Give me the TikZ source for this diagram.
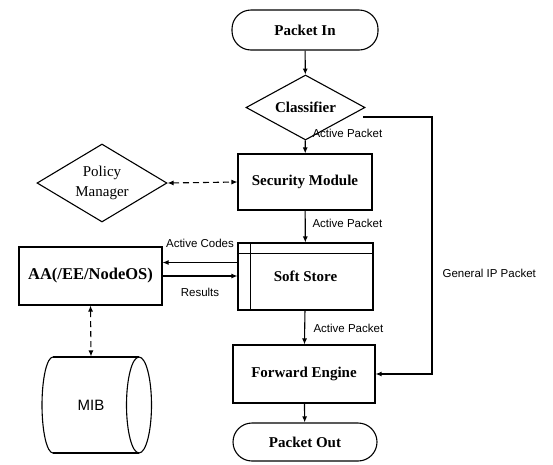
\documentclass[tikz,border=0pt]{standalone}
\usepackage{fontspec}
\setmainfont{Liberation Serif}
\setsansfont{Liberation Sans}
\usetikzlibrary{shapes.geometric,arrows.meta,calc}

\tikzset{
  every path/.style={line width=1.1pt},
  arr/.style={-{Latex[length=6pt,width=5pt]}},
  biarr/.style={{Latex[length=6pt,width=5pt]}-{Latex[length=6pt,width=5pt]}},
  dashline/.style={dash pattern=on 6pt off 4pt},
  term/.style={draw, rounded corners=19pt, inner sep=0pt, font=\fontsize{15}{18}\selectfont\bfseries},
  procbox/.style={draw, inner sep=0pt, font=\fontsize{15}{18}\selectfont\bfseries},
  decision/.style={draw, diamond, aspect=2, inner sep=0pt, align=center},
  edgelabel/.style={font=\sffamily\fontsize{11.5}{13}\selectfont, inner sep=0pt},
}

\begin{document}
\begin{tikzpicture}[x=1pt, y=-1pt]
\useasboundingbox (0,0) rectangle (553,464);

% main column
\node[term, minimum width=146pt, minimum height=40pt] (pin) at (305,30) {Packet In};
\node[decision, minimum width=119pt, minimum height=65pt,
      font=\fontsize{15}{18}\selectfont\bfseries] (cls) at (305.5,107.5) {Classifier};
\node[procbox, minimum width=134pt, minimum height=56pt] (sec) at (305,182) {Security Module};
\node[procbox, minimum width=135pt, minimum height=67pt] (ss) at (305.5,276.5) {Soft Store};
\node[procbox, minimum width=142pt, minimum height=58pt] (fe) at (304,374) {Forward Engine};
\node[term, minimum width=144pt, minimum height=38pt] (pout) at (305,442) {Packet Out};

% storage bars of the soft store
\draw ([xshift=13pt]ss.north west) -- ([xshift=13pt]ss.south west);
\draw ([yshift=-11pt]ss.north west) -- ([yshift=-11pt]ss.north east);

% side elements
\node[decision, minimum width=130pt, minimum height=78pt,
      font=\fontsize{15}{20}\selectfont] (pm) at (102,183) {Policy\\Manager};
\node[procbox, minimum width=143pt, minimum height=58pt,
      font=\fontsize{16.5}{19}\selectfont\bfseries] (aa) at (90.5,276) {AA(/EE/NodeOS)};
\node[minimum width=92pt, minimum height=96pt, inner sep=0pt,
      font=\sffamily\fontsize{15}{18}\selectfont] (mib) at (91,405) {MIB};

% MIB drum
\draw (53,357) -- (139,357) (53,453) -- (139,453);
\draw (53,357) arc[start angle=90, end angle=270, x radius=11pt, y radius=48pt];
\draw (139,405) ellipse [x radius=12.5pt, y radius=48pt];

% main flow
\draw[arr] (pin) -- (cls);
\draw[arr] (cls) -- (sec);
\draw[arr] (sec) -- (ss);
\draw[arr] (ss) -- (fe);
\draw[arr] (fe) -- (pout);

\node[edgelabel, anchor=west] at (312,133) {Active Packet};
\node[edgelabel, anchor=west] at (312,223) {Active Packet};
\node[edgelabel, anchor=west] at (313,328) {Active Packet};

% bypass for plain IP traffic
\coordinate (ipstart) at (363,117);
\coordinate (ipturn) at (432,117);
\draw[arr] (ipstart) -- (ipturn) |- (fe.east);
\node[edgelabel, anchor=west] at (442,273) {General IP Packet};

% policy link
\draw[biarr, dashline] (pm.east) -- (sec.west);

% code exchange with the active application
\draw[arr] ([yshift=14pt]ss.west) -- ([yshift=14pt]ss.west -| aa.east);
\draw[arr] (aa.east) -- (aa.east -| ss.west);
\node[edgelabel] at (200,243) {Active Codes};
\node[edgelabel] at (200,292) {Results};

% management information base
\draw[biarr, dashline] (aa.south) -- (mib.north);
\end{tikzpicture}
\end{document}
